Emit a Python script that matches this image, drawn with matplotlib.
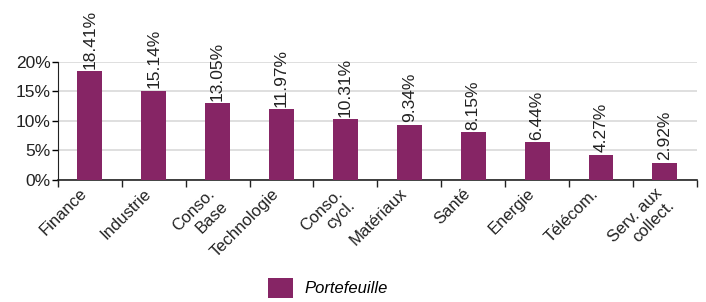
import matplotlib
matplotlib.use("Agg")
import matplotlib.pyplot as plt
from matplotlib.patches import Patch
import numpy as np

categories = ["Finance", "Industrie", "Conso.\nBase", "Technologie", "Conso.\ncycl.",
              "Matériaux", "Santé", "Energie", "Télécom.", "Serv. aux\ncollect."]
values = [18.41, 15.14, 13.05, 11.97, 10.31, 9.34, 8.15, 6.44, 4.27, 2.92]
value_labels = ["18.41%", "15.14%", "13.05%", "11.97%", "10.31%", "9.34%", "8.15%",
                "6.44%", "4.27%", "2.92%"]
yticks = [0, 5, 10, 15, 20]
ytick_labels = ["0%", "5%", "10%", "15%", "20%"]
series_name = "Portefeuille"

color = "#862565"
plt.rcParams['font.family'] = ['Liberation Sans', 'DejaVu Sans']

fig = plt.figure(figsize=(7.06, 3.02), dpi=100)
ax = fig.add_axes([0.082, 0.404, 0.905, 0.391])
x = np.arange(len(categories))
ax.bar(x, values, width=0.39, color=color, zorder=3)
ax.set_xlim(-0.5, len(categories) - 0.5)
ax.set_ylim(0, 20)
ax.set_yticks(yticks)
ax.set_yticklabels(ytick_labels, fontsize=12.5, color="#222222")
ax.tick_params(axis='y', length=4, width=1, pad=1)
ax.yaxis.grid(True, color="#d9d9d9", linewidth=1.2, zorder=0)
for s in ["top", "right"]:
    ax.spines[s].set_visible(False)
ax.spines["left"].set_color("#222222")
ax.spines["bottom"].set_color("#222222")
ax.spines["bottom"].set_linewidth(1.2)

ax.set_xticks(np.arange(-0.5, len(categories), 1.0))
ax.set_xticklabels([])
ax.tick_params(axis='x', length=5, width=1, direction='out', color="#222222")
for xi, lab in zip(x, categories):
    ax.text(xi - 0.16, -1.0, lab, rotation=45, ha='right', va='top',
            rotation_mode='anchor', fontsize=12, color="#222222",
            multialignment='right', transform=ax.transData)

for xi, v, lab in zip(x, values, value_labels):
    ax.text(xi, v + 0.4, lab, rotation=90, ha='center', va='bottom', fontsize=12.5,
            color="#222222")

fig.legend(handles=[Patch(facecolor=color, label=series_name)],
           loc='lower center', bbox_to_anchor=(0.465, -0.035), frameon=False,
           prop={'style': 'italic', 'size': 12}, handlelength=1.5, handleheight=1.4,
           handletextpad=0.7)

fig.savefig("out.png", dpi=100)
